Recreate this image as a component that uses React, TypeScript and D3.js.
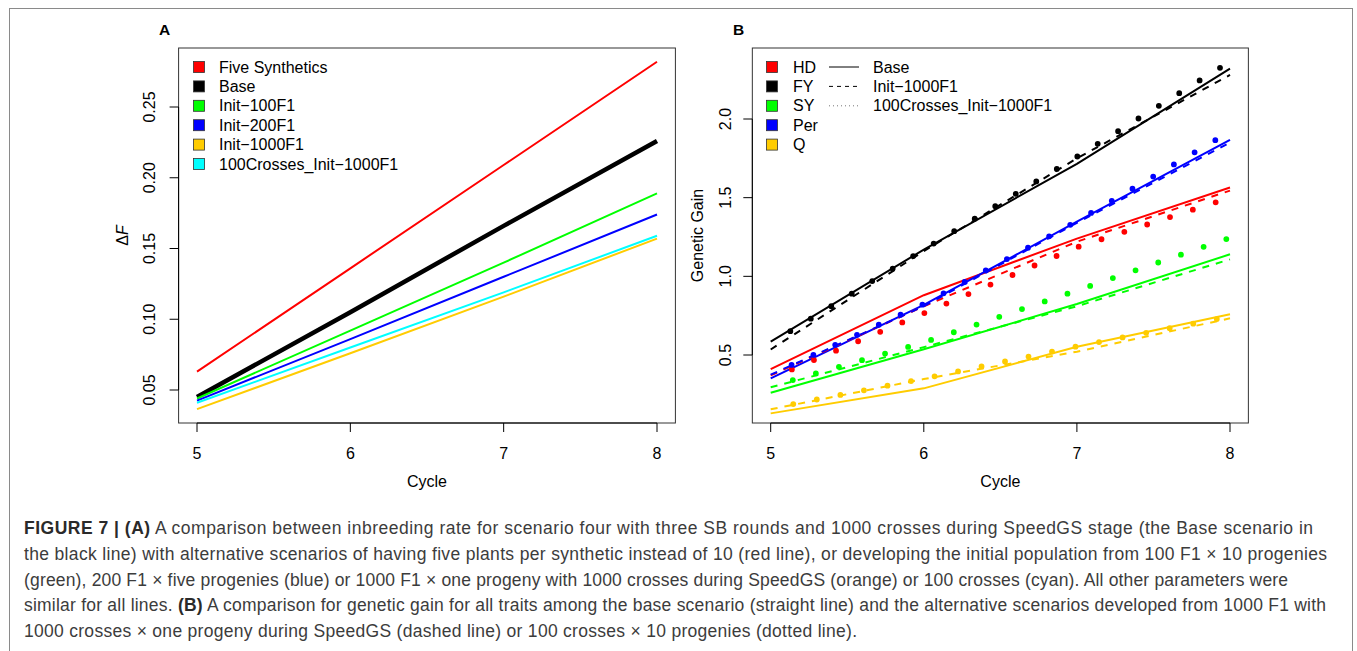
import React, { useEffect } from 'react';
import * as d3 from 'd3';

// ---------- Data ----------
const CYCLES = [5, 6, 7, 8];

// Panel A: inbreeding rate (ΔF)
const A_NAMES = ['Five Synthetics', 'Base', 'Init\u2212100F1', 'Init\u2212200F1', 'Init\u22121000F1', '100Crosses_Init\u22121000F1'];
const A_COLORS = ['#FF0000', '#000000', '#00FF00', '#0000FF', '#FFCC00', '#00FFFF'];
const A_FIVE_SYN = [0.063, 0.136, 0.209, 0.282];
const A_BASE = [0.045, 0.105, 0.166, 0.226];
const A_INIT100 = [0.044, 0.092, 0.140, 0.189];
const A_INIT200 = [0.0425, 0.086, 0.130, 0.174];
const A_INIT1000 = [0.0365, 0.076, 0.116, 0.157];
const A_100CROSS = [0.041, 0.080, 0.119, 0.159];
const A_VALUES = [A_FIVE_SYN, A_BASE, A_INIT100, A_INIT200, A_INIT1000, A_100CROSS];
const A_WIDTHS = [2, 4.5, 2, 2, 2, 2];
const A_YTICKS = [0.05, 0.10, 0.15, 0.20, 0.25];

// Panel B: genetic gain
const B_TRAITS = ['HD', 'FY', 'SY', 'Per', 'Q'];
const B_COLORS = ['#FF0000', '#000000', '#00FF00', '#0000FF', '#FFCC00'];
const B_SCENARIOS = ['Base', 'Init\u22121000F1', '100Crosses_Init\u22121000F1'];
// Base (solid)
const B_BASE_HD = [0.41, 0.88, 1.24, 1.565];
const B_BASE_FY = [0.585, 1.17, 1.715, 2.32];
const B_BASE_SY = [0.26, 0.536, 0.824, 1.14];
const B_BASE_PER = [0.352, 0.818, 1.347, 1.868];
const B_BASE_Q = [0.129, 0.288, 0.553, 0.759];
// Init-1000F1 (dashed)
const B_INIT_HD = [0.37, 0.81, 1.22, 1.545];
const B_INIT_FY = [0.535, 1.16, 1.75, 2.28];
const B_INIT_SY = [0.295, 0.55, 0.81, 1.108];
const B_INIT_PER = [0.375, 0.81, 1.34, 1.85];
const B_INIT_Q = [0.155, 0.347, 0.521, 0.733];
// 100Crosses_Init-1000F1 (dotted)
const B_100C_HD = [0.351, 0.765, 1.185, 1.50];
const B_100C_FY = [0.575, 1.17, 1.76, 2.365];
const B_100C_SY = [0.30, 0.58, 0.91, 1.245];
const B_100C_PER = [0.376, 0.824, 1.35, 1.92];
const B_100C_Q = [0.16, 0.35, 0.555, 0.745];
const B_VALUES = [
  [B_BASE_HD, B_BASE_FY, B_BASE_SY, B_BASE_PER, B_BASE_Q],
  [B_INIT_HD, B_INIT_FY, B_INIT_SY, B_INIT_PER, B_INIT_Q],
  [B_100C_HD, B_100C_FY, B_100C_SY, B_100C_PER, B_100C_Q],
];
const B_YTICKS = [0.5, 1.0, 1.5, 2.0];
const X_TICKS = [5, 6, 7, 8];

const CAPTION_LINES: { b?: boolean; t: string }[][] = [
  [{ b: true, t: 'FIGURE 7 | (A)' }, { t: ' A comparison between inbreeding rate for scenario four with three SB rounds and 1000 crosses during SpeedGS stage (the Base scenario in' }],
  [{ t: 'the black line) with alternative scenarios of having five plants per synthetic instead of 10 (red line), or developing the initial population from 100 F1 \u00d7 10 progenies' }],
  [{ t: '(green), 200 F1 \u00d7 five progenies (blue) or 1000 F1 \u00d7 one progeny with 1000 crosses during SpeedGS (orange) or 100 crosses (cyan). All other parameters were' }],
  [{ t: 'similar for all lines. ' }, { b: true, t: '(B)' }, { t: ' A comparison for genetic gain for all traits among the base scenario (straight line) and the alternative scenarios developed from 1000 F1 with' }],
  [{ t: '1000 crosses \u00d7 one progeny during SpeedGS (dashed line) or 100 crosses \u00d7 10 progenies (dotted line).' }],
];
const CAPTION_WIDTHS = [1289, 1303, 1264, 1302, 833];

const FONT = "'Liberation Sans', Arial, Helvetica, sans-serif";
const FS = 16;

export default function App() {
  useEffect(() => {
    document.body.style.margin = '0';
  }, []);

  const top = 48;
  const bottom = 423;

  const xA = d3.scaleLinear().domain([5, 8]).range([197, 657]);
  const yA = d3.scaleLinear().domain([0.05, 0.25]).range([390, 107]);
  const xB = d3.scaleLinear().domain([5, 8]).range([770.7, 1230]);
  const yB = d3.scaleLinear().domain([0.5, 2.0]).range([355, 119]);

  const lineA = d3.line<number>().x((_, i) => xA(CYCLES[i])).y((d) => yA(d));
  const lineB = d3.line<number>().x((_, i) => xB(CYCLES[i])).y((d) => yB(d));

  const boxA = { x0: xA(4.88), x1: xA(8.12) };
  const boxB = { x0: xB(4.88), x1: xB(8.12) };

  const dashFor = (s: number) => (s === 0 ? undefined : s === 1 ? '7 7' : '0 24');
  const widthFor = (s: number) => (s === 2 ? 5.8 : 2);

  const xAxis = (x: d3.ScaleLinear<number, number>) => (
    <g>
      <line x1={x(X_TICKS[0])} x2={x(X_TICKS[X_TICKS.length - 1])} y1={bottom} y2={bottom} stroke="#000" strokeWidth={1} />
      {X_TICKS.map((t) => (
        <g key={t}>
          <line x1={x(t)} x2={x(t)} y1={bottom} y2={bottom + 9} stroke="#000" strokeWidth={1} />
          <text x={x(t)} y={459} textAnchor="middle" fontSize={FS} fontFamily={FONT}>{t}</text>
        </g>
      ))}
    </g>
  );

  const yAxis = (y: d3.ScaleLinear<number, number>, ticks: number[], left: number, labelX: number, fmt: (v: number) => string) => (
    <g>
      <line x1={left} x2={left} y1={y(ticks[0])} y2={y(ticks[ticks.length - 1])} stroke="#000" strokeWidth={1} />
      {ticks.map((t) => (
        <g key={t}>
          <line x1={left - 9} x2={left} y1={y(t)} y2={y(t)} stroke="#000" strokeWidth={1} />
          <text transform={`translate(${labelX},${y(t)}) rotate(-90)`} textAnchor="middle" fontSize={FS} fontFamily={FONT}>{fmt(t)}</text>
        </g>
      ))}
    </g>
  );

  const rowY = (i: number) => 67 + i * 19.4;

  return (
    <svg width={1357} height={651} style={{ position: 'absolute', left: 0, top: 0, display: 'block', background: '#fff' }}>
      <rect x={0} y={0} width={1357} height={651} fill="#fff" />
      {/* outer frame */}
      <rect x={9.5} y={8.5} width={1343} height={700} fill="none" stroke="#8a8a8a" strokeWidth={1} />

      {/* ---------- Panel A ---------- */}
      <text x={159} y={35} fontSize={15.5} fontWeight="bold" fontFamily={FONT}>A</text>
      <rect x={boxA.x0} y={top} width={boxA.x1 - boxA.x0} height={bottom - top} fill="none" stroke="#333" strokeWidth={1} />
      {xAxis(xA)}
      {yAxis(yA, A_YTICKS, boxA.x0, 155, (v) => v.toFixed(2))}
      {A_VALUES.map((vals, i) => (
        <path key={i} d={lineA(vals) || ''} fill="none" stroke={A_COLORS[i]} strokeWidth={A_WIDTHS[i]} />
      ))}
      <text transform={`translate(128,${(top + bottom) / 2}) rotate(-90)`} textAnchor="middle" fontSize={FS} fontFamily={FONT}>
        {'\u0394'}<tspan fontStyle="italic">F</tspan>
      </text>
      <text x={(boxA.x0 + boxA.x1) / 2} y={487} textAnchor="middle" fontSize={FS} fontFamily={FONT}>Cycle</text>
      {A_NAMES.map((n, i) => (
        <g key={n}>
          <rect x={193.5} y={rowY(i) - 5.5} width={11} height={11} fill={A_COLORS[i]} stroke="#333" strokeWidth={0.8} />
          <text x={219} y={rowY(i) + 5.5} fontSize={FS} fontFamily={FONT}>{n}</text>
        </g>
      ))}

      {/* ---------- Panel B ---------- */}
      <text x={733} y={35} fontSize={15.5} fontWeight="bold" fontFamily={FONT}>B</text>
      <rect x={boxB.x0} y={top} width={boxB.x1 - boxB.x0} height={bottom - top} fill="none" stroke="#333" strokeWidth={1} />
      {xAxis(xB)}
      {yAxis(yB, B_YTICKS, boxB.x0, 731, (v) => v.toFixed(1))}
      {B_VALUES.map((set, s) =>
        set.map((vals, t) => (
          <path
            key={`${s}-${t}`}
            d={lineB(vals) || ''}
            fill="none"
            stroke={B_COLORS[t]}
            strokeWidth={widthFor(s)}
            strokeDasharray={dashFor(s)}
            strokeDashoffset={s === 2 ? 1 : 0}
            strokeLinecap={s === 2 ? 'round' : 'butt'}
          />
        ))
      )}
      <text transform={`translate(703,${(top + bottom) / 2}) rotate(-90)`} textAnchor="middle" fontSize={FS} fontFamily={FONT}>Genetic Gain</text>
      <text x={(boxB.x0 + boxB.x1) / 2} y={487} textAnchor="middle" fontSize={FS} fontFamily={FONT}>Cycle</text>
      {B_TRAITS.map((n, i) => (
        <g key={n}>
          <rect x={766.5} y={rowY(i) - 5.5} width={11} height={11} fill={B_COLORS[i]} stroke="#333" strokeWidth={0.8} />
          <text x={793} y={rowY(i) + 5.5} fontSize={FS} fontFamily={FONT}>{n}</text>
        </g>
      ))}
      {B_SCENARIOS.map((n, i) => (
        <g key={n}>
          <line x1={829} x2={859} y1={rowY(i)} y2={rowY(i)} stroke={i === 2 ? '#777' : '#000'} strokeWidth={1}
            strokeDasharray={i === 0 ? undefined : i === 1 ? '4 4' : '1 3'} />
          <text x={873} y={rowY(i) + 5.5} fontSize={FS} fontFamily={FONT}>{n}</text>
        </g>
      ))}

      {/* ---------- Caption ---------- */}
      {CAPTION_LINES.map((parts, li) => (
        <text key={li} x={24} y={534.3 + li * 25.6} fontSize={17.5} fontFamily={FONT} fill="#3c3c3c"
          textLength={CAPTION_WIDTHS[li]} lengthAdjust="spacing">
          {parts.map((p, pi) => (
            <tspan key={pi} fontWeight={p.b ? 'bold' : 'normal'} fill={p.b ? '#2a2a2a' : '#3c3c3c'}>{p.t}</tspan>
          ))}
        </text>
      ))}
    </svg>
  );
}
